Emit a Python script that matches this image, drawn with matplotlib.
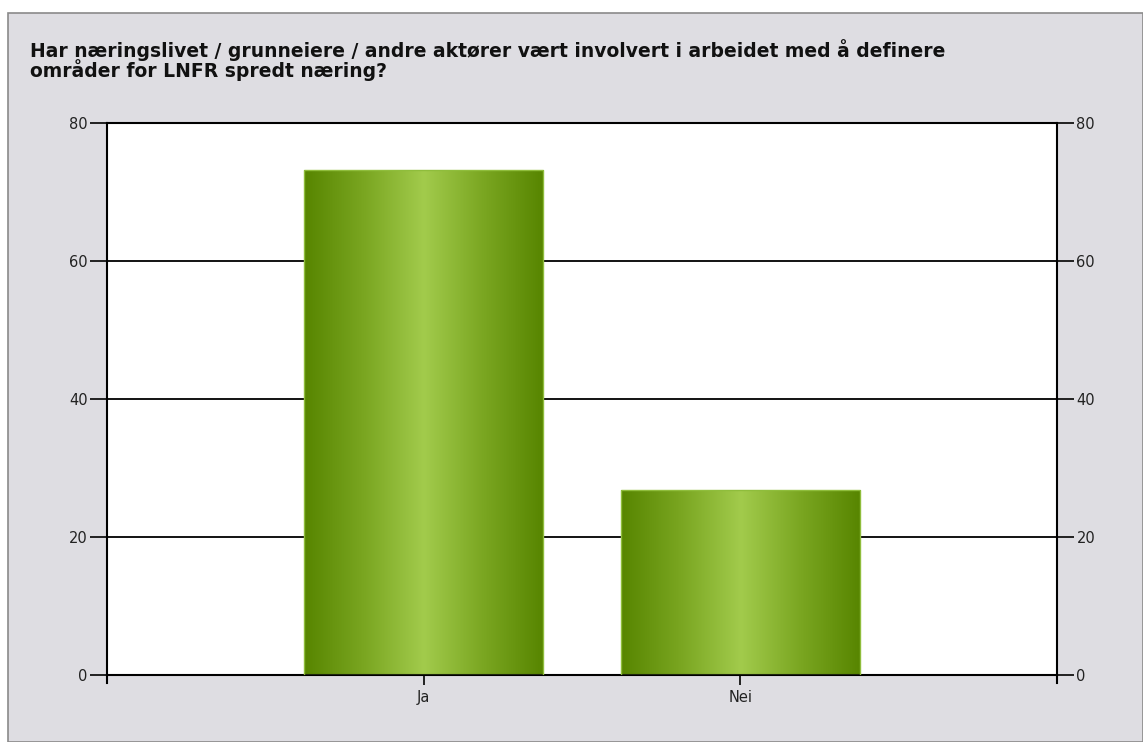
import numpy as np
import matplotlib
matplotlib.use("Agg")
import matplotlib.pyplot as plt
from matplotlib.colors import LinearSegmentedColormap
from matplotlib.patches import Rectangle

title = "Har næringslivet / grunneiere / andre aktører vært involvert i arbeidet med å definere\nområder for LNFR spredt næring?"
categories = ["Ja", "Nei"]
values = [73.2, 26.8]
yticks = [0, 20, 40, 60, 80]

W, H = 1143, 742
fig = plt.figure(figsize=(W / 100, H / 100), dpi=100)
fig.patch.set_facecolor("white")
# gray panel with border
panel = Rectangle((8 / W, 0), 1 - 8 / W, 1 - 13 / H, transform=fig.transFigure,
                  facecolor="#dedde2", edgecolor="#8a8a8a", linewidth=1.2, zorder=-10)
fig.patches.append(panel)

fig.text(30 / W, 1 - 39 / H, title, fontsize=13.5, fontweight="bold", color="#111111",
         va="top", ha="left", family="DejaVu Sans", linespacing=0.9)

left, right, top, bottom = 107, 1057, 123, 675
ax = fig.add_axes([left / W, 1 - bottom / H, (right - left) / W, (bottom - top) / H])
ax.set_facecolor("white")

x = np.arange(len(categories))
width = 0.755
cmap = LinearSegmentedColormap.from_list(
    "g", ["#578500", "#7aa621", "#a2cb4c", "#7aa621", "#578500"])
grad = np.linspace(0, 1, 256).reshape(1, -1)
bars = ax.bar(x, values, width=width, color="none", edgecolor="#8fbd3c",
              linewidth=1.0, zorder=3)
for b in bars:
    x0, y0 = b.get_x(), b.get_y()
    im = ax.imshow(grad, cmap=cmap, aspect="auto", zorder=2.5,
                   extent=(x0, x0 + b.get_width(), y0, y0 + b.get_height()))
    im.set_clip_path(b)
ax.set_xlim(-1, 2)
ax.set_ylim(0, 80)

for yv in yticks[1:-1]:
    ax.axhline(yv, color="black", linewidth=1.3, zorder=1)

for s in ax.spines.values():
    s.set_color("black")
    s.set_linewidth(1.5)

ax.set_yticks(yticks)
ax.set_xticks(x)
ax.set_xticklabels(categories)
ax.tick_params(axis="y", which="both", left=True, right=True, labelleft=True,
               labelright=True, length=12, width=1.2, labelsize=10.5, colors="black",
               labelcolor="#222222", pad=2)
ax.tick_params(axis="x", length=7, width=1.2, labelsize=10.5, labelcolor="#222222", pad=4)
# ticks at the ends of x-axis
ax.plot([-1, -1], [0, -1.2], color="black", lw=1.5, clip_on=False, zorder=4)
ax.plot([2, 2], [0, -1.2], color="black", lw=1.5, clip_on=False, zorder=4)

fig.savefig("out.png", dpi=100, facecolor=fig.get_facecolor())
